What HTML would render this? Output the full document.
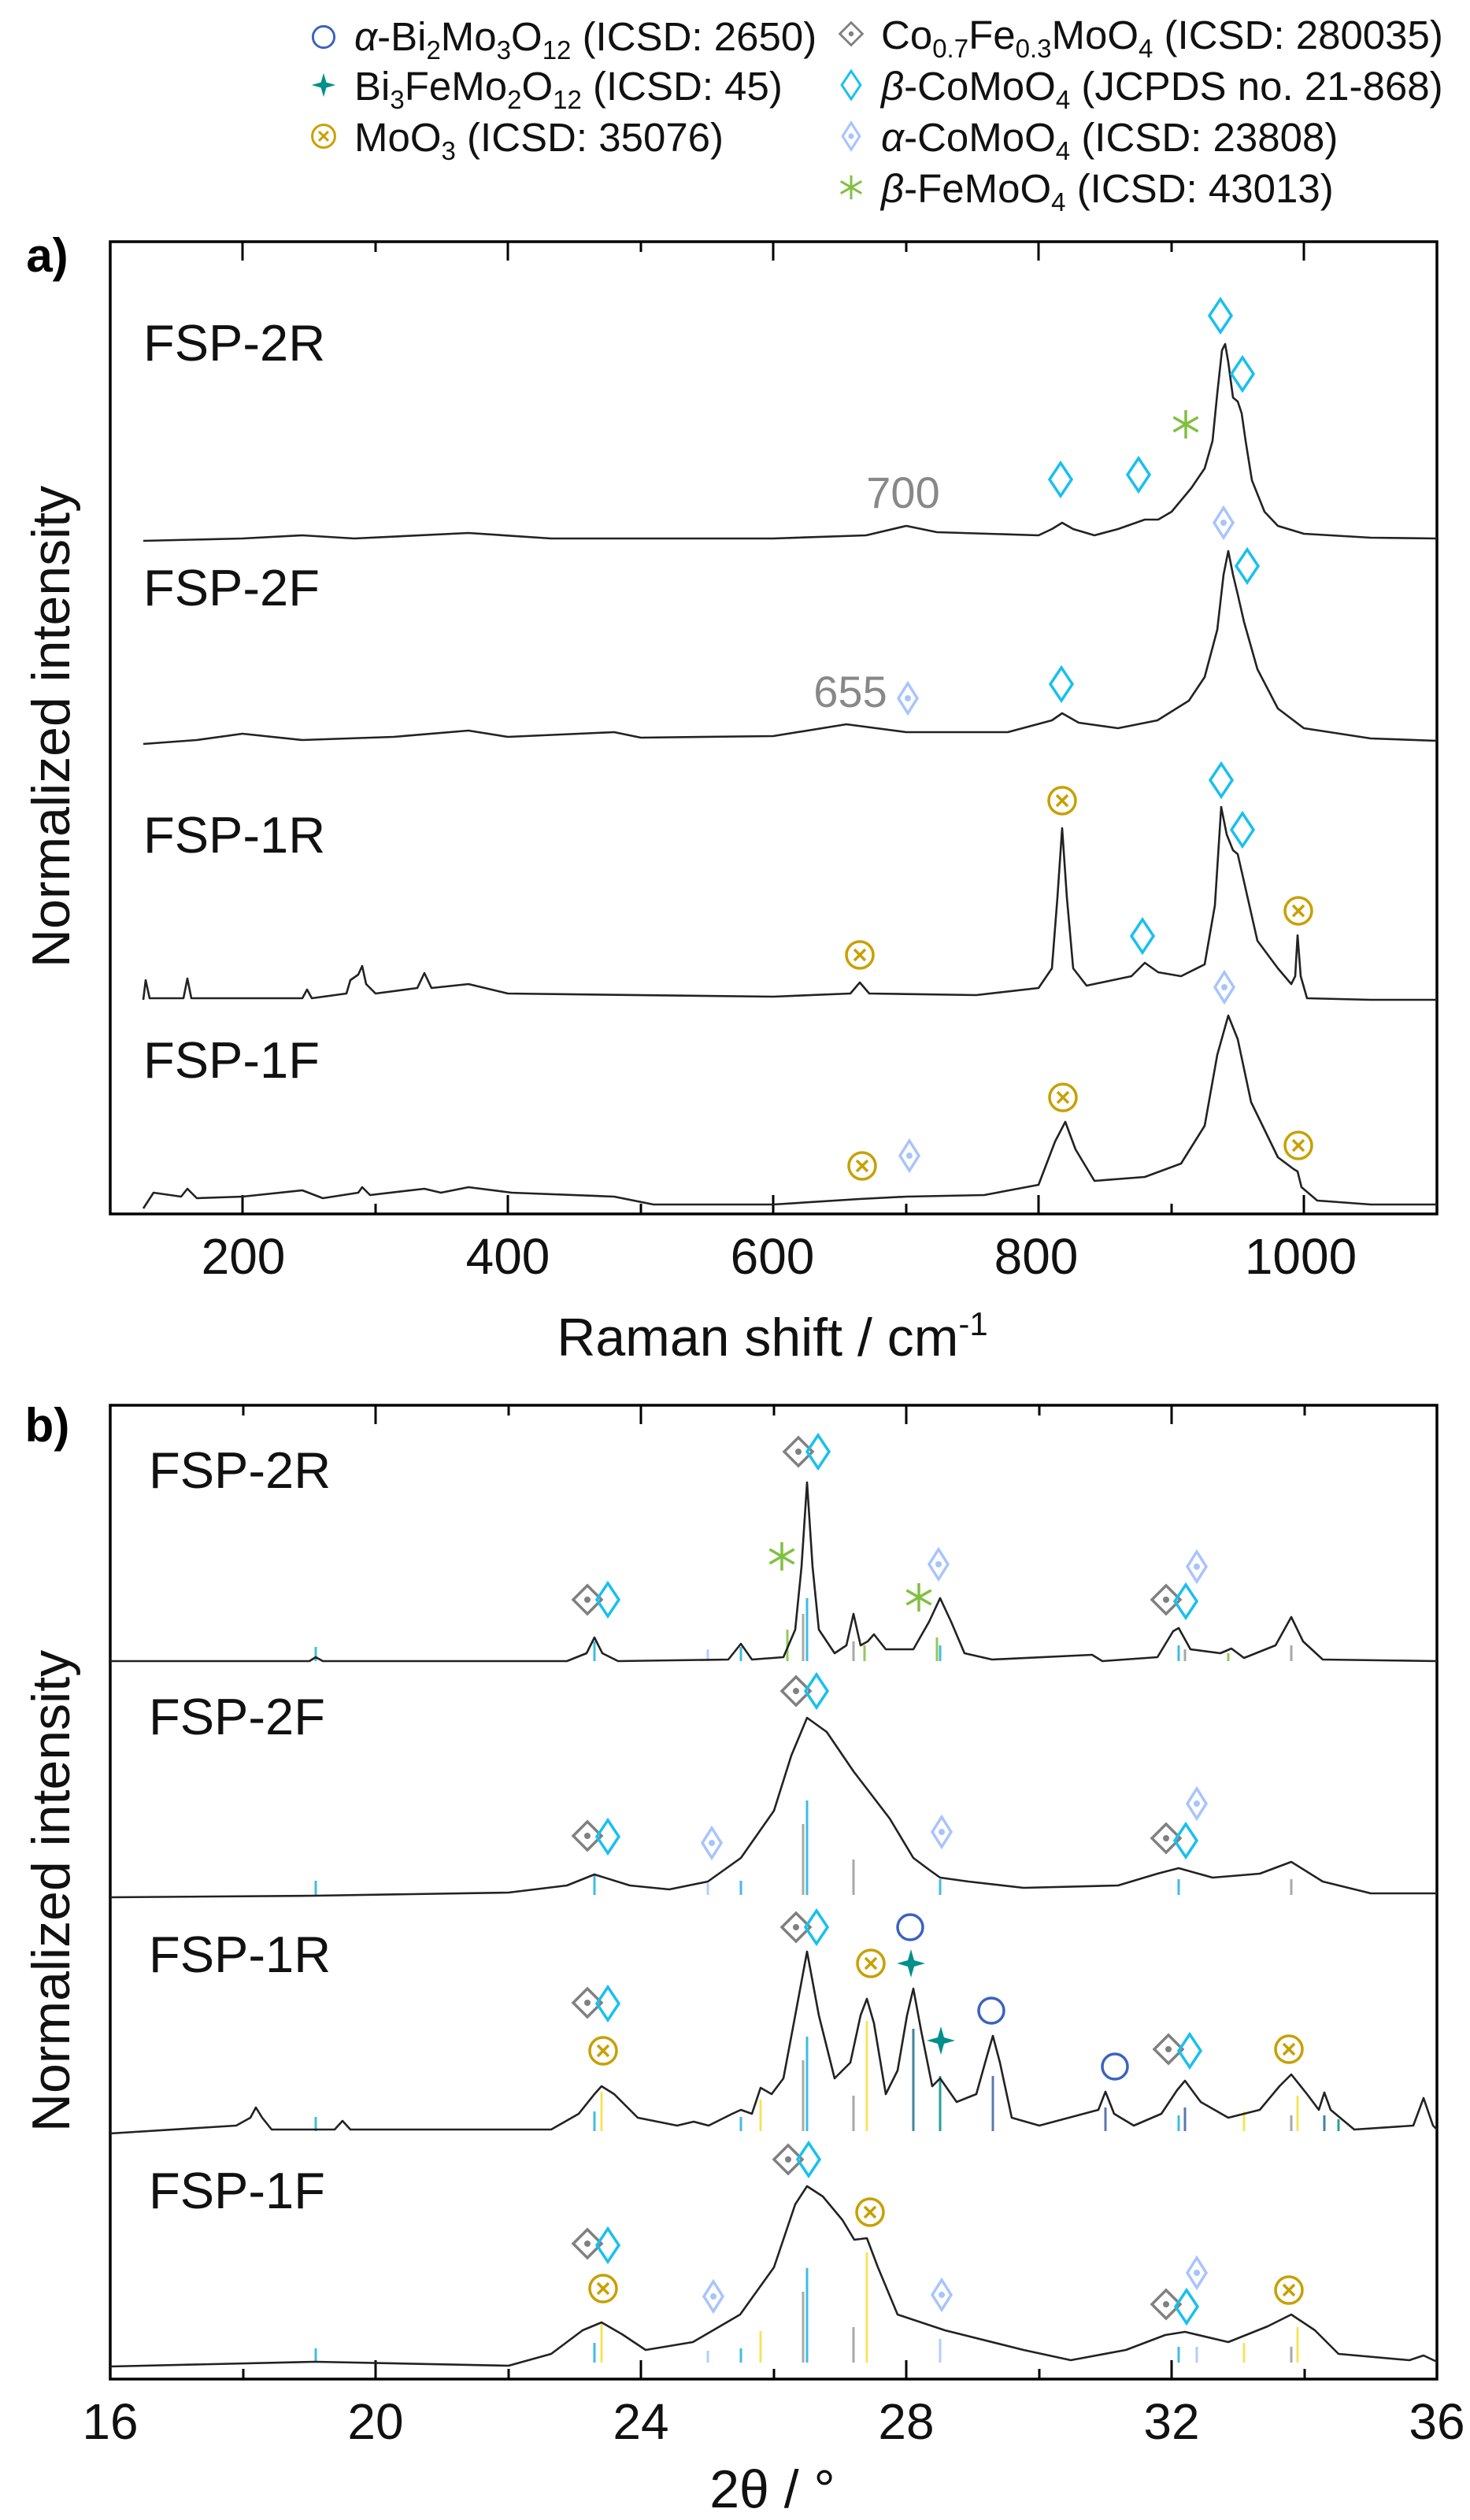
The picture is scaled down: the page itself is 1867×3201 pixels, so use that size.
<!DOCTYPE html>
<html><head><meta charset="utf-8"><style>
html,body{margin:0;padding:0;background:#fff;}
svg{display:block;}
text{font-family:"Liberation Sans",Arial,sans-serif;}
</style></head><body>
<svg width="1867" height="3201" viewBox="0 0 1867 3201" xmlns="http://www.w3.org/2000/svg" xmlns:xlink="http://www.w3.org/1999/xlink">
<defs>
<g id="B"><path d="M0 -21L14 0L0 21L-14 0Z" fill="none" stroke="#18c0f0" stroke-width="3.5"/></g>
<g id="Lb"><path d="M0 -19L12 0L0 19L-12 0Z" fill="none" stroke="#a8c4ff" stroke-width="3.5"/><circle r="4" fill="#a8c4ff"/></g>
<g id="G"><path d="M0 -18L18 0L0 18L-18 0Z" fill="none" stroke="#808080" stroke-width="3.5"/><circle r="4" fill="#808080"/></g>
<g id="O"><circle r="17" fill="none" stroke="#c8a000" stroke-width="3.5"/><path d="M-7 -7L7 7M7 -7L-7 7" stroke="#c8a000" stroke-width="3.5"/></g>
<g id="CI"><circle r="16" fill="none" stroke="#3a62c0" stroke-width="3.5"/></g>
<g id="TS"><path d="M0 -18L4 -4L18 0L4 4L0 18L-4 4L-18 0L-4 -4Z" fill="#00908a"/></g>
<g id="GS"><path d="M0 -18L0 18M15.6 -9L-15.6 9M15.6 9L-15.6 -9" stroke="#80c040" stroke-width="3.5"/></g>
</defs>
<rect width="1867" height="3201" fill="#fff"/>
<!-- legend -->
<g font-size="51" fill="#111">
<text x="450" y="64"><tspan font-style="italic">α</tspan>-Bi<tspan font-size="33" dy="11">2</tspan><tspan dy="-11">Mo</tspan><tspan font-size="33" dy="11">3</tspan><tspan dy="-11">O</tspan><tspan font-size="33" dy="11">12</tspan><tspan dy="-11"> (ICSD: 2650)</tspan></text>
<text x="450" y="127">Bi<tspan font-size="33" dy="11">3</tspan><tspan dy="-11">FeMo</tspan><tspan font-size="33" dy="11">2</tspan><tspan dy="-11">O</tspan><tspan font-size="33" dy="11">12</tspan><tspan dy="-11"> (ICSD: 45)</tspan></text>
<text x="450" y="192">MoO<tspan font-size="33" dy="11">3</tspan><tspan dy="-11"> (ICSD: 35076)</tspan></text>
<text x="1119" y="62">Co<tspan font-size="33" dy="11">0.7</tspan><tspan dy="-11">Fe</tspan><tspan font-size="33" dy="11">0.3</tspan><tspan dy="-11">MoO</tspan><tspan font-size="33" dy="11">4</tspan><tspan dy="-11"> (ICSD: 280035)</tspan></text>
<text x="1119" y="127"><tspan font-style="italic">β</tspan>-CoMoO<tspan font-size="33" dy="11">4</tspan><tspan dy="-11"> (JCPDS no. 21-868)</tspan></text>
<text x="1119" y="192"><tspan font-style="italic">α</tspan>-CoMoO<tspan font-size="33" dy="11">4</tspan><tspan dy="-11"> (ICSD: 23808)</tspan></text>
<text x="1119" y="257"><tspan font-style="italic">β</tspan>-FeMoO<tspan font-size="33" dy="11">4</tspan><tspan dy="-11"> (ICSD: 43013)</tspan></text>
</g>
<use xlink:href="#CI" transform="translate(411,47) scale(0.85)"/>
<use xlink:href="#TS" transform="translate(411,108) scale(0.85)"/>
<use xlink:href="#O" transform="translate(411,173) scale(0.85)"/>
<use xlink:href="#G" transform="translate(1081,43) scale(0.8)"/>
<use xlink:href="#B" transform="translate(1081,108) scale(0.85)"/>
<use xlink:href="#Lb" transform="translate(1081,173) scale(0.9)"/>
<use xlink:href="#GS" transform="translate(1081,238) scale(0.85)"/>

<!-- frames -->
<rect x="140" y="307" width="1685" height="1235" fill="none" stroke="#000" stroke-width="3.5"/>
<rect x="140" y="1785" width="1685" height="1237" fill="none" stroke="#000" stroke-width="3.5"/>
<g stroke="#000" stroke-width="3">
<path d="M308 1542v-24M645 1542v-24M982 1542v-24M1319 1542v-24M1656 1542v-24M477 1542v-13M814 1542v-13M1151 1542v-13M1488 1542v-13
M308 307v24M645 307v24M982 307v24M1319 307v24M1656 307v24M477 307v13M814 307v13M1151 307v13M1488 307v13"/>
<path d="M477 3022v-24M814 3022v-24M1151 3022v-24M1488 3022v-24M309 3022v-13M646 3022v-13M983 3022v-13M1320 3022v-13M1657 3022v-13
M477 1785v24M814 1785v24M1151 1785v24M1488 1785v24M309 1785v13M646 1785v13M983 1785v13M1320 1785v13M1657 1785v13"/>
</g>

<!-- XRD reference sticks -->
<g stroke-width="3" opacity="0.85">
<g stroke="#20b0e0"><path d="M401 2110v-18M755 2110v-25M941 2110v-18M1025 2110v-80M1194 2110v-20M1497 2110v-20
M401 2407v-18M755 2407v-25M941 2407v-18M1025 2407v-120M1194 2407v-20M1497 2407v-20
M401 2707v-18M755 2707v-25M941 2707v-18M1025 2707v-120M1194 2707v-20M1497 2707v-20
M401 3001v-18M755 3001v-25M941 3001v-18M1025 3001v-120M1194 3001v-20M1497 3001v-20"/></g>
<g stroke="#999"><path d="M1020 2110v-60M1084 2110v-25M1505 2110v-15M1640 2110v-20M1020 2407v-90M1084 2407v-45M1640 2407v-20M1020 2707v-90M1084 2707v-45M1640 2707v-20M1020 3001v-90M1084 3001v-45M1640 3001v-20"/></g>
<g stroke="#80c040"><path d="M1000 2110v-40M1190 2110v-30M1098 2110v-20M1560 2110v-10"/></g>
<g stroke="#f5e040"><path d="M764 2707v-50M1101 2707v-140M966 2707v-40M1648 2707v-45M1580 2707v-25M764 3001v-50M1101 3001v-140M966 3001v-40M1648 3001v-45M1580 3001v-25"/></g>
<g stroke="#207090"><path d="M1160 2707v-130M1682 2707v-20"/></g>
<g stroke="#00908a"><path d="M1194 2707v-70M1700 2707v-15"/></g>
<g stroke="#4060a0"><path d="M1261 2707v-70M1404 2707v-30M1505 2707v-30"/></g>
<g stroke="#a8c4ff"><path d="M899 2110v-15M899 2407v-15M899 3001v-15M1194 3001v-30M1520 3001v-20"/></g>
</g>

<!-- curves -->
<g fill="none" stroke="#222" stroke-width="2.6" stroke-linejoin="round">
<path d="M182 687 L308 684 L384 680 L450 684 L595 677 L700 684 L982 684 L1100 680 L1151 668 L1190 676 L1319 680 L1336 672 L1349 664 L1363 672 L1390 680 L1420 672 L1454 660 L1471 660 L1488 650 L1513 620 L1530 595 L1540 560 L1546 500 L1552 445 L1556 437 L1560 460 L1566 505 L1572 510 L1577 525 L1582 560 L1590 610 L1606 650 L1623 668 L1656 678 L1741 683 L1825 684"/>
<path d="M182 945 L250 940 L308 932 L384 940 L500 936 L595 928 L645 936 L780 930 L814 937 L982 935 L1075 920 L1151 930 L1280 930 L1336 915 L1349 906 L1370 918 L1420 925 L1470 915 L1510 890 L1530 860 L1546 800 L1554 730 L1560 700 L1566 730 L1572 755 L1580 790 L1597 850 L1623 900 L1656 925 L1741 938 L1825 941"/>
<path d="M182 1270 L185 1245 L190 1268 L233 1268 L238 1243 L243 1268 L384 1268 L390 1257 L396 1268 L440 1262 L445 1245 L455 1238 L460 1227 L465 1250 L477 1262 L530 1255 L539 1236 L548 1255 L595 1250 L645 1262 L982 1266 L1080 1262 L1092 1248 L1104 1262 L1240 1264 L1319 1255 L1336 1230 L1343 1140 L1349 1052 L1355 1140 L1363 1230 L1380 1252 L1437 1240 L1454 1223 L1471 1235 L1500 1240 L1530 1225 L1543 1150 L1551 1025 L1558 1060 L1566 1080 L1572 1085 L1580 1120 L1597 1195 L1623 1230 L1640 1250 L1645 1240 L1648 1188 L1652 1240 L1660 1268 L1741 1270 L1825 1270"/>
<path d="M182 1535 L195 1515 L230 1520 L238 1510 L250 1522 L308 1520 L384 1512 L410 1522 L455 1515 L460 1508 L470 1518 L539 1510 L560 1515 L595 1508 L650 1515 L780 1520 L830 1530 L982 1530 L1092 1523 L1151 1520 L1250 1518 L1319 1505 L1340 1450 L1353 1425 L1366 1460 L1390 1500 L1454 1495 L1500 1478 L1530 1430 L1546 1340 L1560 1290 L1572 1320 L1589 1400 L1623 1470 L1643 1485 L1648 1488 L1653 1508 L1673 1525 L1741 1530 L1825 1530"/>
<path d="M140 2110 L393 2110 L401 2105 L410 2110 L720 2110 L745 2100 L755 2080 L765 2100 L785 2110 L925 2108 L941 2088 L955 2108 L995 2105 L1010 2070 L1018 1990 L1025 1883 L1032 1990 L1040 2070 L1060 2100 L1075 2090 L1084 2050 L1093 2090 L1102 2085 L1110 2076 L1125 2095 L1160 2095 L1180 2060 L1194 2030 L1208 2060 L1225 2100 L1260 2108 L1387 2102 L1400 2110 L1470 2105 L1490 2072 L1497 2068 L1512 2095 L1550 2100 L1564 2094 L1580 2106 L1620 2090 L1640 2054 L1655 2085 L1680 2108 L1825 2110"/>
<path d="M140 2410 L400 2408 L646 2404 L720 2395 L755 2381 L800 2395 L850 2400 L899 2390 L941 2360 L983 2300 L1005 2230 L1025 2182 L1050 2200 L1084 2250 L1130 2310 L1160 2360 L1180 2375 L1194 2385 L1230 2390 L1300 2398 L1420 2395 L1470 2380 L1497 2373 L1540 2385 L1600 2380 L1640 2365 L1680 2390 L1741 2405 L1825 2405"/>
<path d="M140 2710 L300 2700 L318 2690 L325 2677 L333 2690 L345 2705 L425 2705 L435 2694 L445 2705 L700 2705 L735 2685 L755 2660 L764 2650 L780 2660 L810 2690 L860 2700 L881 2695 L900 2700 L930 2685 L941 2680 L955 2685 L966 2652 L980 2660 L995 2640 L1010 2560 L1025 2479 L1040 2560 L1060 2640 L1080 2620 L1093 2560 L1101 2539 L1110 2570 L1125 2660 L1140 2630 L1152 2560 L1160 2526 L1170 2580 L1184 2650 L1194 2640 L1215 2670 L1240 2660 L1254 2610 L1261 2586 L1270 2620 L1285 2690 L1320 2700 L1395 2680 L1404 2657 L1415 2685 L1440 2700 L1475 2685 L1495 2655 L1505 2643 L1525 2670 L1560 2690 L1600 2680 L1625 2650 L1640 2635 L1660 2660 L1675 2680 L1682 2658 L1690 2680 L1720 2705 L1795 2700 L1808 2665 L1820 2700 L1825 2705"/>
<path d="M140 3006 L400 3000 L646 3005 L700 2990 L740 2960 L764 2950 L790 2965 L820 2985 L880 2975 L940 2940 L983 2880 L1010 2800 L1025 2777 L1045 2790 L1070 2820 L1085 2845 L1101 2843 L1115 2880 L1140 2940 L1200 2960 L1300 2985 L1360 2998 L1430 2985 L1480 2966 L1505 2962 L1560 2975 L1610 2955 L1640 2940 L1670 2960 L1700 2990 L1790 2998 L1808 2992 L1825 3000"/>
</g>

<!-- markers plot a -->
<use xlink:href="#B" x="1550" y="401"/><use xlink:href="#B" x="1578" y="475"/><use xlink:href="#GS" x="1506" y="539"/>
<use xlink:href="#B" x="1347" y="609"/><use xlink:href="#B" x="1446" y="603"/><use xlink:href="#Lb" x="1554" y="664"/>
<use xlink:href="#B" x="1584" y="719"/><use xlink:href="#B" x="1348" y="869"/><use xlink:href="#Lb" x="1153" y="887"/>
<use xlink:href="#O" x="1349" y="1017"/><use xlink:href="#B" x="1551" y="991"/><use xlink:href="#B" x="1578" y="1054"/>
<use xlink:href="#O" x="1649" y="1157"/><use xlink:href="#B" x="1451" y="1189"/><use xlink:href="#O" x="1092" y="1213"/><use xlink:href="#Lb" x="1555" y="1254"/>
<use xlink:href="#O" x="1350" y="1394"/><use xlink:href="#O" x="1649" y="1455"/><use xlink:href="#O" x="1095" y="1481"/><use xlink:href="#Lb" x="1155" y="1468"/>
<!-- markers plot b -->
<use xlink:href="#G" x="1014" y="1844"/><use xlink:href="#B" x="1039" y="1844"/><use xlink:href="#GS" x="993" y="1977"/><use xlink:href="#Lb" x="1192" y="1987"/><use xlink:href="#GS" x="1167" y="2029"/>
<use xlink:href="#G" x="746" y="2032"/><use xlink:href="#B" x="772" y="2032"/><use xlink:href="#G" x="1481" y="2032"/><use xlink:href="#B" x="1506" y="2034"/><use xlink:href="#Lb" x="1520" y="1990"/>
<use xlink:href="#G" x="1011" y="2148"/><use xlink:href="#B" x="1037" y="2148"/><use xlink:href="#G" x="746" y="2332"/><use xlink:href="#B" x="772" y="2333"/>
<use xlink:href="#Lb" x="904" y="2341"/><use xlink:href="#Lb" x="1196" y="2327"/><use xlink:href="#Lb" x="1520" y="2291"/><use xlink:href="#G" x="1481" y="2335"/><use xlink:href="#B" x="1506" y="2338"/>
<use xlink:href="#G" x="1011" y="2448"/><use xlink:href="#B" x="1037" y="2448"/><use xlink:href="#CI" x="1156" y="2448"/><use xlink:href="#O" x="1106" y="2494"/><use xlink:href="#TS" x="1157" y="2494"/>
<use xlink:href="#CI" x="1259" y="2554"/><use xlink:href="#TS" x="1195" y="2592"/><use xlink:href="#G" x="746" y="2544"/><use xlink:href="#B" x="772" y="2545"/><use xlink:href="#O" x="766" y="2605"/>
<use xlink:href="#CI" x="1416" y="2625"/><use xlink:href="#G" x="1484" y="2603"/><use xlink:href="#B" x="1511" y="2605"/><use xlink:href="#O" x="1637" y="2603"/>
<use xlink:href="#G" x="1001" y="2743"/><use xlink:href="#B" x="1027" y="2743"/><use xlink:href="#O" x="1105" y="2810"/><use xlink:href="#G" x="746" y="2850"/><use xlink:href="#B" x="772" y="2852"/>
<use xlink:href="#O" x="766" y="2907"/><use xlink:href="#Lb" x="906" y="2917"/><use xlink:href="#Lb" x="1196" y="2915"/><use xlink:href="#Lb" x="1520" y="2887"/>
<use xlink:href="#G" x="1481" y="2927"/><use xlink:href="#B" x="1507" y="2930"/><use xlink:href="#O" x="1637" y="2909"/>

<!-- labels -->
<text x="60" y="345" font-size="60" font-weight="bold" text-anchor="middle">a)</text>
<text x="60" y="1831" font-size="60" font-weight="bold" text-anchor="middle">b)</text>
<g font-size="65" fill="#111">
<text x="182" y="458">FSP-2R</text>
<text x="182" y="769">FSP-2F</text>
<text x="182" y="1083">FSP-1R</text>
<text x="182" y="1369">FSP-1F</text>
<text x="189" y="1890">FSP-2R</text>
<text x="189" y="2203">FSP-2F</text>
<text x="189" y="2505">FSP-1R</text>
<text x="189" y="2805">FSP-1F</text>
</g>
<text x="1147" y="645" font-size="56" fill="#888" text-anchor="middle">700</text>
<text x="1080" y="898" font-size="56" fill="#888" text-anchor="middle">655</text>
<g font-size="64" fill="#111" text-anchor="middle">
<text x="309" y="1618">200</text><text x="645" y="1618">400</text><text x="981" y="1618">600</text><text x="1316" y="1618">800</text><text x="1652" y="1618">1000</text>
<text x="140" y="3098">16</text><text x="477" y="3098">20</text><text x="814" y="3098">24</text><text x="1151" y="3098">28</text><text x="1488" y="3098">32</text><text x="1825" y="3098">36</text>
</g>
<g font-size="68" fill="#111" text-anchor="middle">
<text x="981" y="1722">Raman shift / cm<tspan font-size="42" dy="-26">-1</tspan></text>
<text x="981" y="3185">2θ / °</text>
<text transform="translate(88,923) rotate(-90)">Normalized intensity</text>
<text transform="translate(88,2402) rotate(-90)">Normalized intensity</text>
</g>
</svg>
</body></html>
